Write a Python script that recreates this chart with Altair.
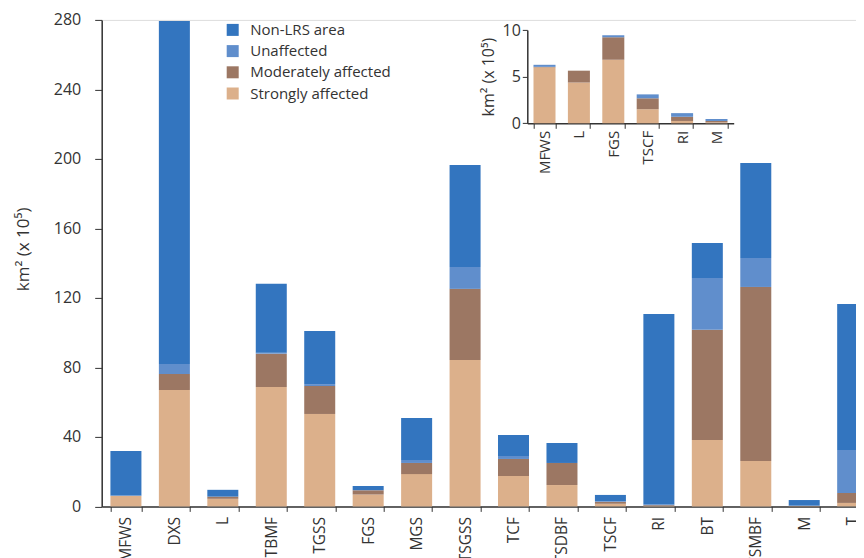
import altair as alt
import pandas as pd

# ---- data (units: km² x 10^5) ----
categories = ["MFWS", "DXS", "L", "TBMF", "TGSS", "FGS", "MGS", "TSGSS",
              "TCF", "TSDBF", "TSCF", "RI", "BT", "TSMBF", "M", "T"]
strongly   = [6.0, 67.0, 4.37, 68.7, 53.2, 6.8, 18.6, 84.3, 17.5, 12.3, 1.51, 0.25, 38.2, 26.1, 0.10, 2.0]
moderately = [0.05, 9.2, 1.27, 19.2, 16.1, 2.43, 6.4, 40.9, 9.8, 12.7, 1.17, 0.45, 63.4, 100.2, 0.15, 5.7]
unaffected = [0.22, 5.8, 0.0, 0.6, 1.1, 0.21, 1.7, 12.6, 1.7, 0.0, 0.42, 0.39, 29.9, 16.7, 0.21, 24.8]
non_lrs    = [25.6, 197.4, 3.9, 39.6, 30.6, 2.3, 24.2, 58.7, 12.1, 11.5, 3.5, 109.7, 20.1, 54.6, 3.2, 84.0]

inset_categories = ["MFWS", "L", "FGS", "TSCF", "RI", "M"]

series = ["Non-LRS area", "Unaffected", "Moderately affected", "Strongly affected"]
colors = ["#3375BF", "#608ECC", "#9C7763", "#DCB08B"]
y_ticks = [0, 40, 80, 120, 160, 200, 240, 280]
inset_ticks = [0, 5, 10]

FONT = "Open Sans"

rows = []
for i, c in enumerate(categories):
    for ordv, (name, vals) in enumerate([("Strongly affected", strongly),
                                         ("Moderately affected", moderately),
                                         ("Unaffected", unaffected),
                                         ("Non-LRS area", non_lrs)]):
        rows.append({"cat": c, "series": name, "value": vals[i], "ord": ordv})
df = pd.DataFrame(rows)
df_inset = df[df["cat"].isin(inset_categories) & (df["series"] != "Non-LRS area")]

W = 775.2
H = 486.5

color = alt.Color("series:N",
                  scale=alt.Scale(domain=series, range=colors),
                  legend=alt.Legend(title=None, orient="none", legendX=123.5, legendY=2.5,
                                    symbolType="square", symbolSize=144, symbolStrokeWidth=0,
                                    labelFont=FONT, labelFontSize=15, labelColor="#333333",
                                    labelOffset=10, rowPadding=5.2))

main = alt.Chart(df).mark_bar().encode(
    x=alt.X("cat:N", sort=categories,
            scale=alt.Scale(domain=categories, paddingInner=0.36, paddingOuter=0.18),
            axis=alt.Axis(title=None, labelAngle=270, tickBand="extent", labelFont=FONT,
                          labelFontSize=15.5, labelColor="#333333", domainColor="#333333",
                          tickColor="#333333", tickSize=5, labelPadding=5, domainWidth=1.5)),
    y=alt.Y("value:Q", stack="zero", scale=alt.Scale(domain=[0, 280], nice=False),
            axis=alt.Axis(title="km² (x 10⁵)", values=y_ticks, grid=False, labelFont=FONT,
                          labelFontSize=16, labelColor="#333333", domainColor="#333333",
                          tickColor="#333333", tickSize=7, labelPadding=14, domainWidth=1.5,
                          titleFont=FONT, titleFontSize=17, titleFontWeight="normal",
                          titleColor="#333333", titleX=-69, titleY=229)),
    color=color,
    order=alt.Order("ord:Q", sort="ascending"),
)

inset = alt.Chart(df_inset).mark_bar().encode(
    x=alt.X("cat:N", sort=inset_categories,
            scale=alt.Scale(domain=inset_categories, range=[425.6, 632.0], paddingInner=0.36, paddingOuter=0.18),
            axis=alt.Axis(title=None, orient="bottom", offset=-(H - 103.4), labelAngle=270,
                          tickBand="extent", labelFont=FONT, labelFontSize=15, labelColor="#333333",
                          domainColor="#333333", tickColor="#333333", tickSize=5, labelPadding=2,
                          domainWidth=1.5)),
    y=alt.Y("value:Q", stack="zero", scale=alt.Scale(domain=[0, 10], nice=False, range=[103.4, 10.1]),
            axis=alt.Axis(title="km² (x 10⁵)", orient="left", offset=-425.6, values=inset_ticks,
                          grid=False, labelFont=FONT, labelFontSize=16, labelColor="#333333",
                          domainColor="#333333", tickColor="#333333", tickSize=5, labelPadding=2,
                          domainWidth=1.5, titleFont=FONT, titleFontSize=16,
                          titleFontWeight="normal", titleColor="#333333", titlePadding=6)),
    color=alt.Color("series:N", scale=alt.Scale(domain=series, range=colors), legend=None),
    order=alt.Order("ord:Q", sort="ascending"),
)

chart = alt.layer(main, inset).resolve_scale(x="independent", y="independent").resolve_axis(
    x="independent", y="independent"
).properties(
    width=W, height=H,
    autosize=alt.AutoSizeParams(type="none"),
    padding={"left": 93.7, "top": 11.9, "right": -20.9, "bottom": 51.6},
).configure_view(stroke=None).configure(background="white")

chart.save("out.html", embed_options={"renderer": "svg", "actions": False})
